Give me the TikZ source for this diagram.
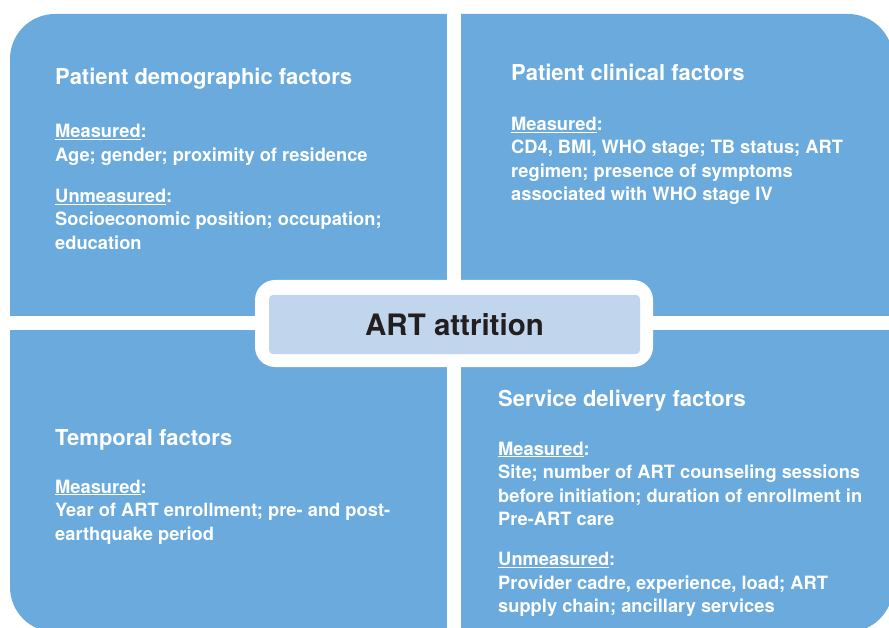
\documentclass[tikz,border=0pt]{standalone}
\usepackage{fontspec}
\setmainfont{TeX Gyre Heros}
\usepackage{tikz}
\usetikzlibrary{positioning}

\definecolor{quadblue}{HTML}{6AAADC}
\definecolor{corelight}{HTML}{C1D5EC}
\definecolor{coretext}{HTML}{231F20}

\tikzset{
  head/.style={anchor=base west, text=white, inner sep=0pt,
    font=\bfseries\fontsize{22}{26}\selectfont},
  % base of a multi-line node = baseline of its last line
  body/.style={anchor=base west, text=white, inner sep=0pt, align=left,
    font=\bfseries\fontsize{18.3}{23.5}\selectfont},
}
\newcommand{\lbl}[1]{\underline{#1}:}

\begin{document}
\begin{tikzpicture}[x=1pt,y=-1pt]
  \useasboundingbox (0,0) rectangle (889,628);
  \clip (0,0) rectangle (889,628);

	%quadrants
  \fill[quadblue, rounded corners=45pt] (10,14) rectangle (893,632);
  \fill[white] (447,0) rectangle (461,640);
  \fill[white] (0,316.5) rectangle (900,330);

	%centre
  \node[fill=white, rounded corners=20pt, minimum width=398pt, minimum height=87pt] (frame) at (454,323.5) {};
  \node[fill=corelight, rounded corners=4pt, minimum width=371pt, minimum height=59pt,
        text=coretext, font=\bfseries\fontsize{29.5}{34}\selectfont] (core) at (454.5,324.5) {ART attrition};

	%headings
    \foreach \x/\y/\name/\title in {55/85/demo/Patient demographic factors, 511/81/clin/Patient clinical factors,
                                    55/445/temp/Temporal factors, 498/406/serv/Service delivery factors}{
      \node[head] (\name) at (\x,\y) {\title};
    }

	%contents
  \node[body] (demobody) at (55,249.5) {\lbl{Measured}\\
    Age; gender; proximity of residence\\[17.5pt]
    \lbl{Unmeasured}\\
    Socioeconomic position; occupation;\\
    education};
  \node[body] (clinbody) at (511,201) {\lbl{Measured}\\
    CD4, BMI, WHO stage; TB status; ART\\
    regimen; presence of symptoms\\
    associated with WHO stage IV};
  \node[body] (tempbody) at (55,540) {\lbl{Measured}\\
    Year of ART enrollment; pre- and post-\\
    earthquake period};
  \node[body] (servbody) at (498,612.5) {\lbl{Measured}\\
    Site; number of ART counseling sessions\\
    before initiation; duration of enrollment in\\
    Pre-ART care\\[16.5pt]
    \lbl{Unmeasured}\\
    Provider cadre, experience, load; ART\\
    supply chain; ancillary services};

\end{tikzpicture}
\end{document}
